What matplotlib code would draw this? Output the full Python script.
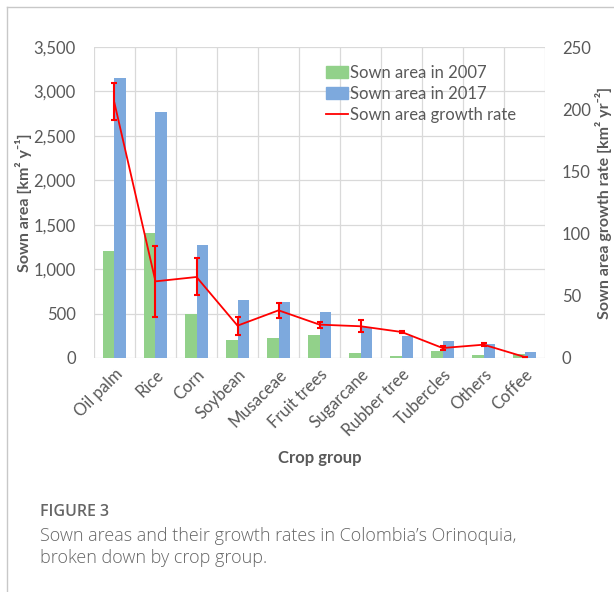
import matplotlib
matplotlib.use("Agg")
import matplotlib.pyplot as plt
import numpy as np
from matplotlib.lines import Line2D
from matplotlib.patches import Patch

categories = ["Oil palm", "Rice", "Corn", "Soybean", "Musaceae", "Fruit trees",
              "Sugarcane", "Rubber tree", "Tubercles", "Others", "Coffee"]
area_2007 = [1200, 1410, 495, 200, 225, 255, 56, 19, 75, 38, 49]
area_2017 = [3150, 2768, 1268, 649, 630, 521, 345, 244, 195, 158, 64]
growth_rate = [205, 61.6, 65.1, 26.0, 38.3, 26.8, 25.5, 20.9, 8.0, 10.7, 0.8]
growth_err_low = [14, 28.6, 14.7, 7.8, 6.1, 2.7, 4.9, 1.0, 1.6, 1.3, 0.0]
growth_err_high = [16, 28.7, 15.3, 6.7, 5.9, 2.1, 4.8, 1.0, 1.9, 1.3, 0.0]
left_ticks = [0, 500, 1000, 1500, 2000, 2500, 3000, 3500]
right_ticks = [0, 50, 100, 150, 200, 250]

plt.rcParams['font.family'] = ['Lato', 'DejaVu Sans']
tick_color = "#595959"
green = "#92D18A"
blue = "#7DA9DD"
red = "#FF0000"
grid_c = "#D9D9D9"
fs = 12

fig = plt.figure(figsize=(6.14, 5.92), dpi=100)
ax = fig.add_axes([0.153, 0.3953, 0.735, 0.5253])
ax2 = ax.twinx()

x = np.arange(len(categories))
w = 0.285
ax.bar(x - w / 2, area_2007, width=w, color=green, zorder=2)
ax.bar(x + w / 2, area_2017, width=w, color=blue, zorder=2)

ax.set_xlim(-0.5, len(categories) - 0.5)
ax.set_ylim(0, 3500)
ax.set_yticks(left_ticks)
ax.set_yticklabels([f"{v:,}" for v in left_ticks])
ax2.set_ylim(0, 250)
ax2.set_yticks(right_ticks)

# gridlines
for v in left_ticks:
    ax.axhline(v, color=grid_c, lw=0.9, zorder=0)
for b in np.arange(-0.5, len(categories) + 0.5, 1):
    ax.axvline(b, color=grid_c, lw=0.9, zorder=0)

ax2.errorbar(x, growth_rate, yerr=[growth_err_low, growth_err_high], color=red,
             lw=1.3, elinewidth=1.5, capsize=2.5, capthick=1.5, zorder=3)

for a in (ax, ax2):
    for s in a.spines.values():
        s.set_visible(False)
    a.tick_params(length=0, colors=tick_color, labelsize=fs)

ax.set_xticks(x)
ax.set_xticklabels(categories, rotation=45, ha="right", rotation_mode="anchor")
ax.tick_params(axis="x", pad=6)
ax.tick_params(axis="y", pad=13)
ax2.tick_params(axis="y", pad=12)

ax.set_ylabel("Sown area [km² y⁻¹]", fontsize=11.5, fontweight="bold",
              color=tick_color)
ax.yaxis.label.set_va("center")
ax.yaxis.set_label_coords(-0.157, 0.5)
ax2.set_ylabel("Sown area growth rate [km² yr⁻²]", fontsize=11.5,
               fontweight="bold", color=tick_color, rotation=90)
ax2.yaxis.label.set_va("center")
ax2.yaxis.set_label_coords(1.13, 0.5)
ax.set_xlabel("Crop group", fontsize=fs, fontweight="bold", color=tick_color,
              labelpad=8)

handles = [Patch(color=green, label="Sown area in 2007"),
           Patch(color=blue, label="Sown area in 2017"),
           Line2D([0], [0], color=red, lw=1.3, label="Sown area growth rate")]
leg = ax2.legend(handles=handles, loc="upper left", bbox_to_anchor=(0.5, 0.965),
                 frameon=False, fontsize=fs, handlelength=1.3, handletextpad=0.1,
                 labelspacing=0.3, borderaxespad=0)
for t in leg.get_texts():
    t.set_color(tick_color)

# figure border
fig.add_artist(Line2D([7 / 614, 7 / 614], [0, 1 - 7 / 592], color="#C8C8C8", lw=1,
                      transform=fig.transFigure))
fig.add_artist(Line2D([7 / 614, 1], [1 - 7 / 592, 1 - 7 / 592], color="#C8C8C8", lw=1,
                      transform=fig.transFigure))

cap_color = "#666666"
fig.text(40 / 614, 1 - 512 / 592, "FIGURE 3", fontsize=11.5, color=cap_color,
         family=["Open Sans", "DejaVu Sans"], fontweight="semibold", va="center")
fig.text(40 / 614, 1 - 536 / 592, "Sown areas and their growth rates in Colombia’s Orinoquia,",
         fontsize=13, color=cap_color, family=["Open Sans", "DejaVu Sans"],
         fontweight="light", va="center")
fig.text(40 / 614, 1 - 558 / 592, "broken down by crop group.",
         fontsize=13, color=cap_color, family=["Open Sans", "DejaVu Sans"],
         fontweight="light", va="center")

fig.savefig("out.png", dpi=100)
